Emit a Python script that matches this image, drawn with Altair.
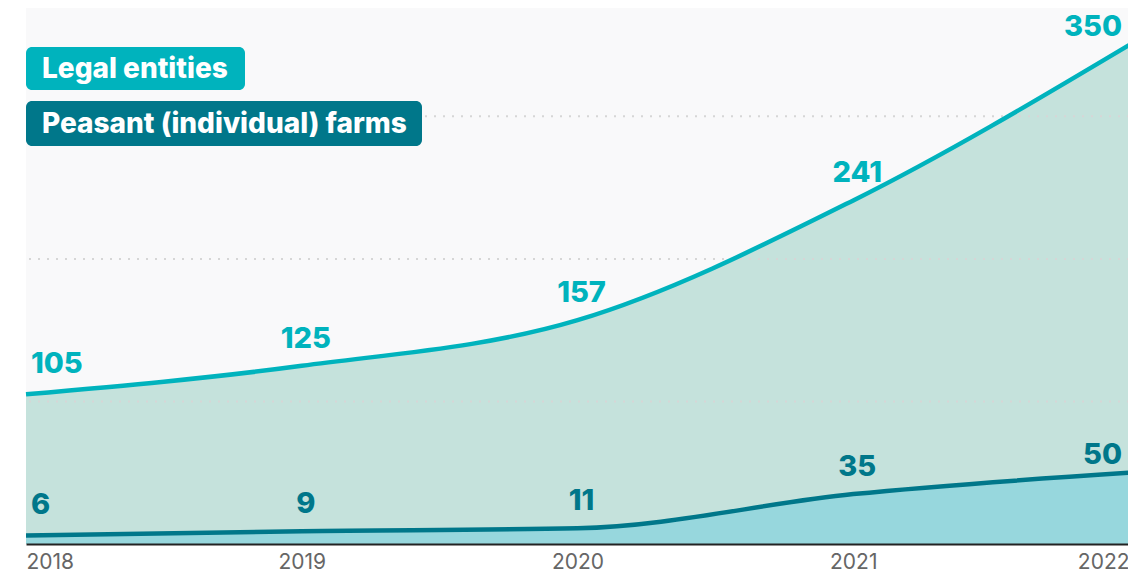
import altair as alt
import pandas as pd

years = [2018, 2019, 2020, 2021, 2022]
legal_entities = [105, 125, 157, 241, 350]
peasant_farms = [6, 9, 11, 35, 50]
series_names = ["Legal entities", "Peasant (individual) farms"]
line_colors = ["#00b3bd", "#00778a"]
fill_colors = ["#c5e2dc", "#97d7dd"]
grid_values = [100, 200, 300]

rows = []
for name, vals in zip(series_names, [legal_entities, peasant_farms]):
    for y, v in zip(years, vals):
        rows.append({"year": y, "value": v, "series": name})
df = pd.DataFrame(rows)
grid_df = pd.DataFrame({"value": grid_values})

FONT = "Inter"

x_enc = alt.X(
    "year:Q",
    scale=alt.Scale(domain=[years[0], years[-1]], nice=False, zero=False),
    axis=alt.Axis(
        values=years, format="d", labelFlush=True, ticks=False, grid=False,
        domainColor="#222222", domainWidth=2, labelPadding=7, labelFontSize=21,
        labelColor="#666666", labelFont=FONT, title=None, zindex=1,
    ),
)
y_enc = alt.Y(
    "value:Q",
    scale=alt.Scale(domain=[0, 376], nice=False),
    axis=None,
)
color_scale = alt.Scale(domain=series_names, range=line_colors)

base = alt.Chart(df)

area_legal = base.transform_filter(alt.datum.series == series_names[0]).mark_area(
    color=fill_colors[0], interpolate="monotone"
).encode(x=x_enc, y=y_enc)
area_peasant = base.transform_filter(alt.datum.series == series_names[1]).mark_area(
    color=fill_colors[1], interpolate="monotone"
).encode(x="year:Q", y="value:Q")

grid = alt.Chart(grid_df).mark_rule(
    color="#d6d6d6", strokeWidth=2, strokeDash=[2, 7]
).encode(y="value:Q")

lines = base.mark_line(interpolate="monotone", strokeWidth=4.5).encode(
    x="year:Q", y="value:Q",
    color=alt.Color("series:N", scale=color_scale, legend=None),
)

def labels(cond, align, dx, dy):
    return base.transform_filter(cond).mark_text(
        align=align, baseline="middle", dx=dx, dy=dy, fontSize=29,
        fontWeight=800, font=FONT,
    ).encode(
        x="year:Q", y="value:Q", text="value:Q",
        color=alt.Color("series:N", scale=color_scale, legend=None),
    )

lab_first = labels(alt.datum.year == years[0], "left", 5, -30)
lab_mid = labels((alt.datum.year > years[0]) & (alt.datum.year < years[-1]), "center", 4, -27)
lab_last = labels(alt.datum.year == years[-1], "right", -7, -18)

leg_df = pd.DataFrame({"series": series_names})

def legend_box(i, y0, y1, w):
    d = alt.Chart(leg_df).transform_filter(alt.datum.series == series_names[i])
    rect = d.mark_rect(color=line_colors[i], cornerRadius=6).encode(
        x=alt.value(0), x2=alt.value(w), y=alt.value(y0), y2=alt.value(y1)
    )
    txt = d.mark_text(
        align="left", baseline="middle", color="white", fontSize=28,
        fontWeight=800, font=FONT,
    ).encode(x=alt.value(16), y=alt.value((y0 + y1) / 2 + 1), text="series:N")
    return rect + txt

leg1 = legend_box(0, 39, 82, 219)
leg2 = legend_box(1, 93, 138, 396)

chart = alt.layer(
    area_legal, area_peasant, grid, lines, lab_first, lab_mid, lab_last, leg1, leg2
).properties(
    width=1120, height=564,
    padding={"left": 9, "top": 0, "right": -10, "bottom": 0},
    autosize=alt.AutoSizeParams(type="fit", contains="padding"),
).configure_view(fill="#f9f9fa", strokeWidth=0)

chart.save("out.html", embed_options={"renderer": "svg", "actions": False})
